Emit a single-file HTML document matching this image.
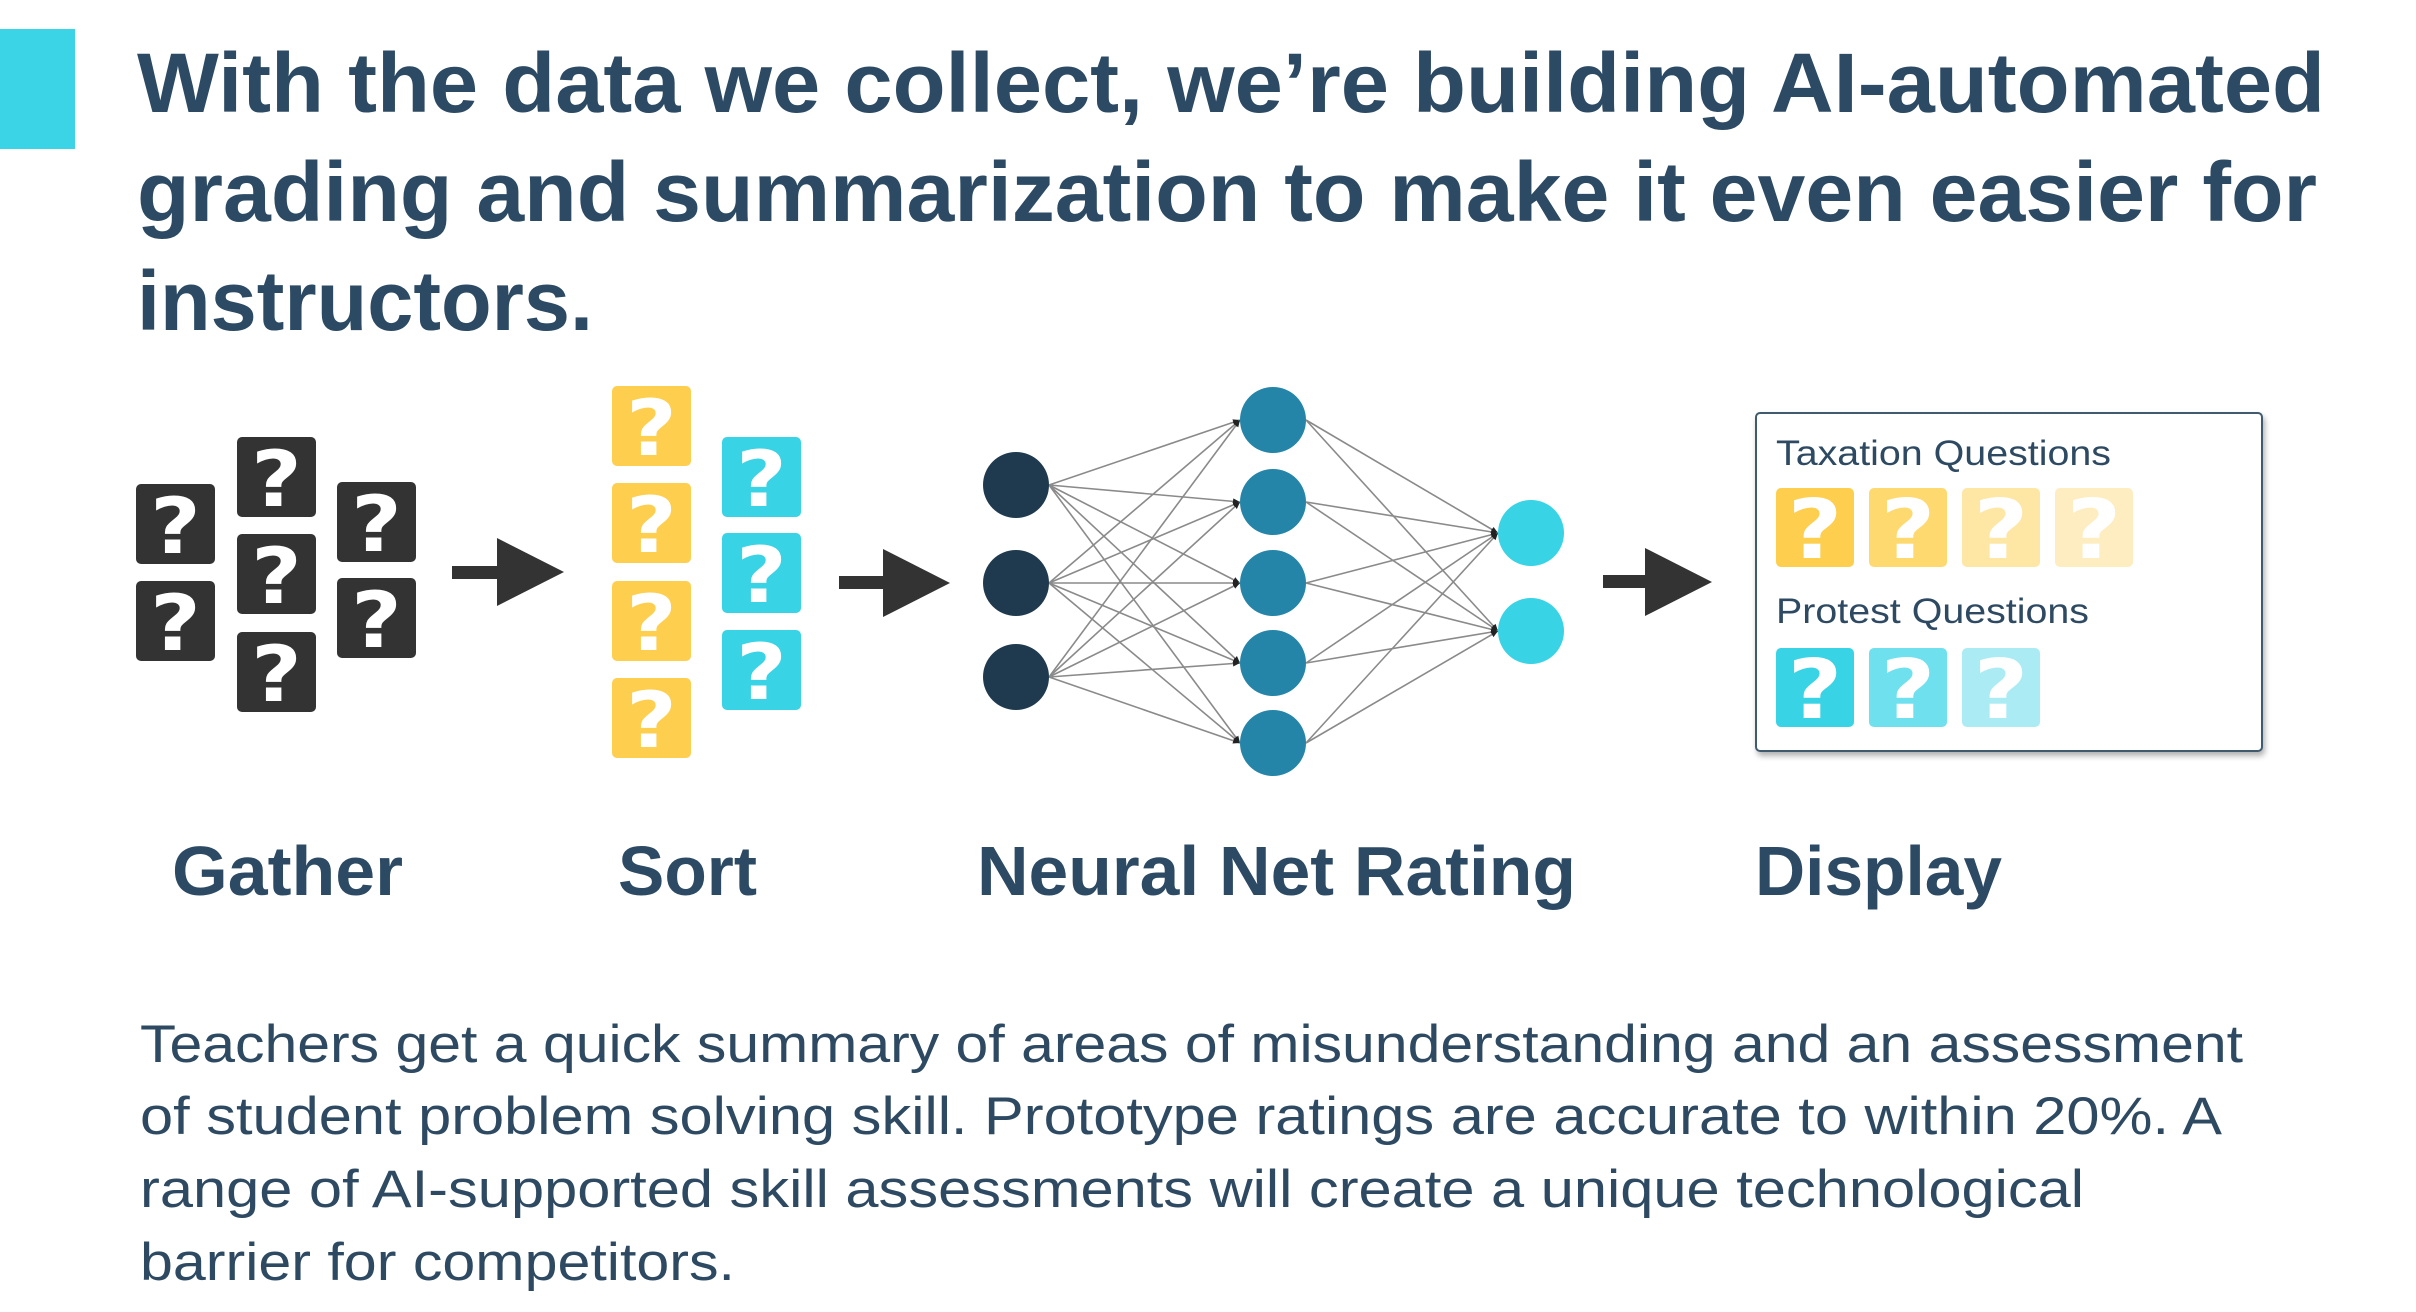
<!DOCTYPE html>
<html>
<head>
<meta charset="utf-8">
<style>
html,body{margin:0;padding:0;background:#fff;}
body{width:2416px;height:1312px;overflow:hidden;}
svg{display:block;}
.t{font-family:"Liberation Sans",sans-serif;font-weight:bold;fill:#2C4A63;}
.p{font-family:"Liberation Sans",sans-serif;fill:#2E4A62;}
.q{font-family:"DejaVu Sans","Liberation Sans",sans-serif;font-weight:bold;fill:#fff;font-size:78px;}
</style>
</head>
<body>
<svg width="2416" height="1312" viewBox="0 0 2416 1312" xmlns="http://www.w3.org/2000/svg">
<defs>
  <marker id="ah" markerUnits="userSpaceOnUse" markerWidth="8" markerHeight="8" refX="7" refY="4" orient="auto">
    <path d="M0,1 L7,4 L0,7 Z" fill="#222"/>
  </marker>
  <filter id="sh" x="-5%" y="-5%" width="115%" height="120%">
    <feDropShadow dx="2" dy="4" stdDeviation="3" flood-color="#000" flood-opacity="0.3"/>
  </filter>
</defs>

<!-- cyan accent bar -->
<rect x="0" y="29" width="75" height="120" fill="#3AD4E6"/>

<!-- title -->
<text class="t" x="137" y="112" font-size="84" textLength="2188" lengthAdjust="spacingAndGlyphs">With the data we collect, we’re building AI-automated</text>
<text class="t" x="137" y="221" font-size="84" textLength="2180" lengthAdjust="spacingAndGlyphs">grading and summarization to make it even easier for</text>
<text class="t" x="137" y="330" font-size="84" textLength="456" lengthAdjust="spacingAndGlyphs">instructors.</text>

<!-- Gather cards -->
<g fill="#333333">
  <rect x="136" y="484" width="79" height="80" rx="5"/>
  <rect x="136" y="581" width="79" height="80" rx="5"/>
  <rect x="237" y="437" width="79" height="80" rx="5"/>
  <rect x="237" y="534" width="79" height="80" rx="5"/>
  <rect x="237" y="632" width="79" height="80" rx="5"/>
  <rect x="337" y="482" width="79" height="80" rx="5"/>
  <rect x="337" y="578" width="79" height="80" rx="5"/>
</g>
<g class="q" text-anchor="middle">
  <text x="175.5" y="553" transform="translate(175.5 0) scale(1.12 1) translate(-175.5 0)">?</text>
  <text x="175.5" y="650" transform="translate(175.5 0) scale(1.12 1) translate(-175.5 0)">?</text>
  <text x="276.5" y="506" transform="translate(276.5 0) scale(1.12 1) translate(-276.5 0)">?</text>
  <text x="276.5" y="603" transform="translate(276.5 0) scale(1.12 1) translate(-276.5 0)">?</text>
  <text x="276.5" y="701" transform="translate(276.5 0) scale(1.12 1) translate(-276.5 0)">?</text>
  <text x="376.5" y="551" transform="translate(376.5 0) scale(1.12 1) translate(-376.5 0)">?</text>
  <text x="376.5" y="647" transform="translate(376.5 0) scale(1.12 1) translate(-376.5 0)">?</text>
</g>

<!-- arrow 1 -->
<rect x="452" y="566" width="46" height="13" fill="#333"/>
<polygon points="497,538 564,572 497,606" fill="#333"/>

<!-- Sort cards -->
<g fill="#FECF4F">
  <rect x="612" y="386" width="79" height="80" rx="5"/>
  <rect x="612" y="483" width="79" height="80" rx="5"/>
  <rect x="612" y="581" width="79" height="80" rx="5"/>
  <rect x="612" y="678" width="79" height="80" rx="5"/>
</g>
<g fill="#38D3E5">
  <rect x="722" y="437" width="79" height="80" rx="5"/>
  <rect x="722" y="533" width="79" height="80" rx="5"/>
  <rect x="722" y="630" width="79" height="80" rx="5"/>
</g>
<g class="q" text-anchor="middle">
  <text x="651.5" y="455" transform="translate(651.5 0) scale(1.12 1) translate(-651.5 0)">?</text>
  <text x="651.5" y="552" transform="translate(651.5 0) scale(1.12 1) translate(-651.5 0)">?</text>
  <text x="651.5" y="650" transform="translate(651.5 0) scale(1.12 1) translate(-651.5 0)">?</text>
  <text x="651.5" y="747" transform="translate(651.5 0) scale(1.12 1) translate(-651.5 0)">?</text>
  <text x="761.5" y="506" transform="translate(761.5 0) scale(1.12 1) translate(-761.5 0)">?</text>
  <text x="761.5" y="602" transform="translate(761.5 0) scale(1.12 1) translate(-761.5 0)">?</text>
  <text x="761.5" y="699" transform="translate(761.5 0) scale(1.12 1) translate(-761.5 0)">?</text>
</g>

<!-- arrow 2 -->
<rect x="839" y="576" width="45" height="13" fill="#333"/>
<polygon points="883,549 950,583 883,617" fill="#333"/>

<!-- neural net connections -->
<g stroke="#8a8a8a" stroke-width="1.6" fill="none" marker-end="url(#ah)">
  <line x1="1049" y1="485" x2="1240" y2="420"/>
  <line x1="1049" y1="485" x2="1240" y2="502"/>
  <line x1="1049" y1="485" x2="1240" y2="583"/>
  <line x1="1049" y1="485" x2="1240" y2="663"/>
  <line x1="1049" y1="485" x2="1240" y2="743"/>
  <line x1="1049" y1="583" x2="1240" y2="420"/>
  <line x1="1049" y1="583" x2="1240" y2="502"/>
  <line x1="1049" y1="583" x2="1240" y2="583"/>
  <line x1="1049" y1="583" x2="1240" y2="663"/>
  <line x1="1049" y1="583" x2="1240" y2="743"/>
  <line x1="1049" y1="677" x2="1240" y2="420"/>
  <line x1="1049" y1="677" x2="1240" y2="502"/>
  <line x1="1049" y1="677" x2="1240" y2="583"/>
  <line x1="1049" y1="677" x2="1240" y2="663"/>
  <line x1="1049" y1="677" x2="1240" y2="743"/>
  <line x1="1306" y1="420" x2="1498" y2="533"/>
  <line x1="1306" y1="420" x2="1498" y2="631"/>
  <line x1="1306" y1="502" x2="1498" y2="533"/>
  <line x1="1306" y1="502" x2="1498" y2="631"/>
  <line x1="1306" y1="583" x2="1498" y2="533"/>
  <line x1="1306" y1="583" x2="1498" y2="631"/>
  <line x1="1306" y1="663" x2="1498" y2="533"/>
  <line x1="1306" y1="663" x2="1498" y2="631"/>
  <line x1="1306" y1="743" x2="1498" y2="533"/>
  <line x1="1306" y1="743" x2="1498" y2="631"/>
</g>
<!-- nodes -->
<g fill="#1F3A4E">
  <circle cx="1016" cy="485" r="33"/>
  <circle cx="1016" cy="583" r="33"/>
  <circle cx="1016" cy="677" r="33"/>
</g>
<g fill="#2485A8">
  <circle cx="1273" cy="420" r="33"/>
  <circle cx="1273" cy="502" r="33"/>
  <circle cx="1273" cy="583" r="33"/>
  <circle cx="1273" cy="663" r="33"/>
  <circle cx="1273" cy="743" r="33"/>
</g>
<g fill="#38D3E5">
  <circle cx="1531" cy="533" r="33"/>
  <circle cx="1531" cy="631" r="33"/>
</g>

<!-- arrow 3 -->
<rect x="1603" y="575" width="43" height="13" fill="#333"/>
<polygon points="1645,548 1712,582 1645,616" fill="#333"/>

<!-- display box -->
<rect x="1756" y="413" width="506" height="338" rx="4" fill="#fff" stroke="#3F5A6E" stroke-width="2" filter="url(#sh)"/>
<text class="p" x="1776" y="465" font-size="35" textLength="335" lengthAdjust="spacingAndGlyphs">Taxation Questions</text>
<rect x="1776" y="488" width="78" height="79" rx="5" fill="#FECF4F"/>
<rect x="1869" y="488" width="78" height="79" rx="5" fill="#FED96F"/>
<rect x="1962" y="488" width="78" height="79" rx="5" fill="#FEE6A5"/>
<rect x="2055" y="488" width="78" height="79" rx="5" fill="#FEEDC0"/>
<text class="p" x="1776" y="623" font-size="35" textLength="313" lengthAdjust="spacingAndGlyphs">Protest Questions</text>
<rect x="1776" y="648" width="78" height="79" rx="5" fill="#38D3E5"/>
<rect x="1869" y="648" width="78" height="79" rx="5" fill="#6FE0EE"/>
<rect x="1962" y="648" width="78" height="79" rx="5" fill="#ABECF4"/>
<g class="q" text-anchor="middle" style="font-size:82px">
  <text x="1815" y="558" transform="translate(1815 0) scale(1.15 1) translate(-1815 0)">?</text>
  <text x="1908" y="558" transform="translate(1908 0) scale(1.15 1) translate(-1908 0)">?</text>
  <text x="2001" y="558" transform="translate(2001 0) scale(1.15 1) translate(-2001 0)">?</text>
  <text x="2094" y="558" transform="translate(2094 0) scale(1.15 1) translate(-2094 0)">?</text>
  <text x="1815" y="718" transform="translate(1815 0) scale(1.15 1) translate(-1815 0)">?</text>
  <text x="1908" y="718" transform="translate(1908 0) scale(1.15 1) translate(-1908 0)">?</text>
  <text x="2001" y="718" transform="translate(2001 0) scale(1.15 1) translate(-2001 0)">?</text>
</g>

<!-- stage labels -->
<text class="t" x="172" y="895" font-size="70" textLength="231" lengthAdjust="spacingAndGlyphs">Gather</text>
<text class="t" x="618" y="895" font-size="70" textLength="139" lengthAdjust="spacingAndGlyphs">Sort</text>
<text class="t" x="977" y="895" font-size="70" textLength="599" lengthAdjust="spacingAndGlyphs">Neural Net Rating</text>
<text class="t" x="1755" y="895" font-size="70" textLength="247" lengthAdjust="spacingAndGlyphs">Display</text>

<!-- paragraph -->
<text class="p" x="140" y="1062" font-size="53" textLength="2103" lengthAdjust="spacingAndGlyphs">Teachers get a quick summary of areas of misunderstanding and an assessment</text>
<text class="p" x="140" y="1134" font-size="53" textLength="2082" lengthAdjust="spacingAndGlyphs">of student problem solving skill. Prototype ratings are accurate to within 20%. A</text>
<text class="p" x="140" y="1207" font-size="53" textLength="1944" lengthAdjust="spacingAndGlyphs">range of AI-supported skill assessments will create a unique technological</text>
<text class="p" x="140" y="1280" font-size="53" textLength="595" lengthAdjust="spacingAndGlyphs">barrier for competitors.</text>
</svg>
</body>
</html>
